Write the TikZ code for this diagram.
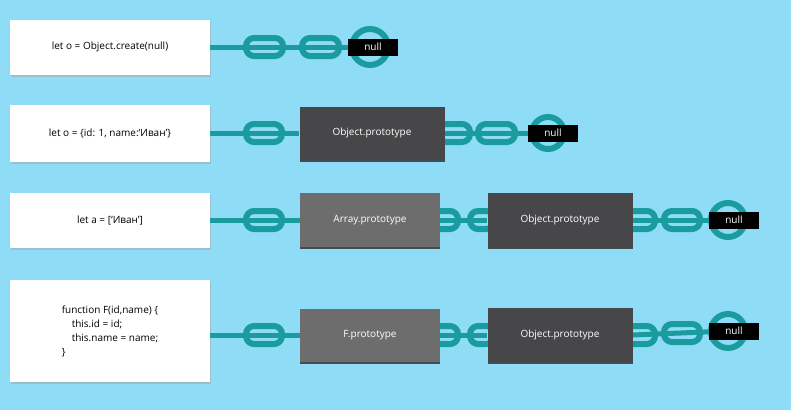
\documentclass[tikz,border=0pt]{standalone}
\usepackage{fontspec}
\setmainfont{Open Sans}
\usetikzlibrary{shadows}
\definecolor{bg}{HTML}{8EDCF6}
\definecolor{teal}{HTML}{1A9C9E}
\definecolor{dk}{HTML}{474749}
\definecolor{gr}{HTML}{6E6D6E}
\begin{document}
\begin{tikzpicture}[x=1pt,y=-1pt,
 code/.style={draw=none,fill=white,drop shadow={shadow xshift=1pt,shadow yshift=-2pt,fill=gray!70},font=\fontsize{10}{14}\selectfont},
 proto/.style={fill=#1,text=white,font=\fontsize{10}{12}\selectfont,drop shadow={shadow xshift=0pt,shadow yshift=-2pt,fill=gray!40!black,opacity=.6}},
 link/.style={draw=teal,line width=6pt,rounded corners=8pt},
 bar/.style={draw=teal,line width=5pt},
 ring/.style={draw=teal,line width=6pt},
 nul/.style={fill=black,text=white,font=\fontsize{10}{12}\selectfont,minimum width=50pt,minimum height=17pt,inner sep=0pt}]
\fill[bg] (0,0) rectangle (791,410);
\def\lnk#1#2#3{\draw[link] (#1,#3-9) rectangle (#2,#3+9);}
% row 1
\node[code,minimum width=200pt,minimum height=55pt] (c1) at (110,47) {let o = Object.create(null)};
\coordinate (r1) at (370,47);
\draw[bar] (c1.east) -- (r1);
\lnk{246}{283}{47}\lnk{302}{339}{47}
\draw[ring] (r1) circle (18);
\node[nul] (n1) at (373,47) {null};
% row 2
\node[code,minimum width=200pt,minimum height=57pt] (c2) at (110,133) {let o = \{id: 1, name:‘Иван’\}};
\node[proto=dk,minimum width=145pt,minimum height=53pt] (o2) at (372,133) {Object.prototype};
\coordinate (r2) at (548,133);
\draw[bar] (c2.east) -- (o2.west);
\lnk{246}{282}{133}
\draw[bar] (o2.east) -- (r2);
\lnk{438}{470}{133}\lnk{478}{515}{133}
\draw[ring] (r2) circle (16);
\node[nul] (n2) at (553,133) {null};
\begin{scope}\fill[bg] (0,0) rectangle (0,0);\end{scope}
% row 3
\node[code,minimum width=200pt,minimum height=55pt] (c3) at (110,220) {let a = [‘Иван’]};
\node[proto=gr,minimum width=140pt,minimum height=54pt] (a3) at (370,220) {Array.prototype};
\node[proto=dk,minimum width=145pt,minimum height=54pt] (o3) at (560,220) {Object.prototype};
\coordinate (r3) at (728,220);
\draw[bar] (c3.east) -- (a3.west);
\lnk{246}{282}{220}
\draw[bar] (a3.east) -- (o3.west);
\lnk{433}{458}{220}\lnk{470}{494}{220}
\draw[bar] (o3.east) -- (r3);
\lnk{624}{655}{220}\lnk{664}{700}{220}
\draw[ring] (r3) circle (17);
\node[nul] (n3) at (734,220) {null};
% row 4
\node[code,minimum width=200pt,minimum height=102pt,align=left] (c4) at (110,331) {function F(id,name) \{\\\quad this.id = id;\\\quad this.name = name;\\\}};
\node[proto=gr,minimum width=140pt,minimum height=53pt] (f4) at (370,335) {F.prototype};
\node[proto=dk,minimum width=145pt,minimum height=54pt] (o4) at (560,335) {Object.prototype};
\coordinate (r4) at (728,331);
\draw[bar] (c4.east|-f4.west) -- (f4.west);
\lnk{246}{282}{335}
\draw[bar] (f4.east) -- (o4.west);
\lnk{433}{458}{335}\lnk{470}{494}{335}
\draw[bar] (o4.east) -- (r4);
\lnk{624}{655}{335}\lnk{664}{700}{333}
\draw[ring] (r4) circle (17);
\node[nul] (n4) at (734,331) {null};
% redraw boxes on top of links
\node[proto=gr,minimum width=140pt,minimum height=54pt] at (a3) {Array.prototype};
\node[proto=dk,minimum width=145pt,minimum height=54pt] at (o3) {Object.prototype};
\node[proto=dk,minimum width=145pt,minimum height=53pt] at (o2) {Object.prototype};
\node[proto=gr,minimum width=140pt,minimum height=53pt] at (f4) {F.prototype};
\node[proto=dk,minimum width=145pt,minimum height=54pt] at (o4) {Object.prototype};
\end{tikzpicture}
\end{document}
